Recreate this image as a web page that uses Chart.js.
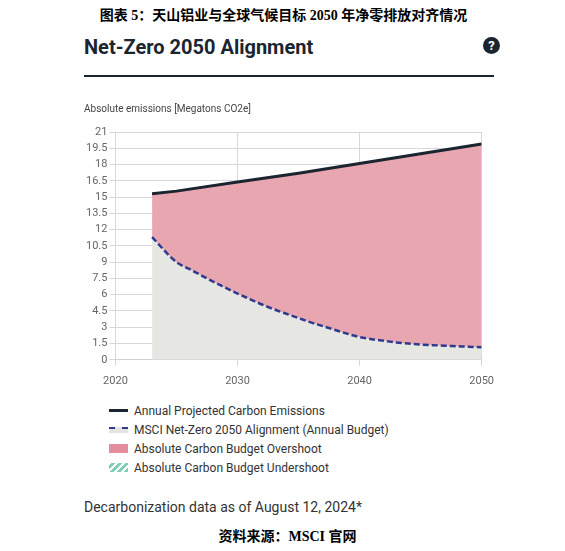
<!DOCTYPE html>
<html>
<head>
<meta charset="utf-8">
<script src="https://cdn.jsdelivr.net/npm/chart.js@4/dist/chart.umd.min.js"></script>
<style>
    body { margin: 0; background: #fff; width: 565px; height: 551px; position: relative; font-family: Roboto, "Noto Sans", sans-serif; color: #222; }
    .cn-title { position: absolute; top: 4px; left: 0; width: 567px; text-align: center; font-family: "Liberation Serif", "Noto Sans CJK SC", serif; font-weight: bold; font-size: 14px; color: #000; }
    .title { position: absolute; top: 35px; left: 84px; font-size: 20px; font-weight: bold; color: #1a2530; }
    .help { position: absolute; top: 37px; left: 483px; width: 17px; height: 17px; border-radius: 50%; background: #1a2530; color: #fff; font-size: 13px; font-weight: bold; text-align: center; line-height: 17px; }
    .rule { position: absolute; top: 75px; left: 84px; width: 410px; height: 2px; background: #1a2530; }
    .chart-box { position: absolute; top: 100px; left: 84px; width: 419px; height: 297px; }
    .legend { position: absolute; top: 403px; left: 109px; font-size: 12px; color: #333; }
    .legend div { height: 19px; line-height: 17px; }
    .sw { display: inline-block; width: 19px; height: 6px; margin-right: 6px; vertical-align: middle; position: relative; top: -1px; }
    .note { position: absolute; top: 499px; left: 84px; font-size: 14px; color: #333; }
    .source { position: absolute; top: 525px; left: 0; width: 575px; text-align: center; font-family: "Liberation Serif", "Noto Sans CJK SC", serif; font-weight: bold; font-size: 14px; color: #000; }
</style>
</head>
<body>
<div class="cn-title">图表 5：天山铝业与全球气候目标 2050 年净零排放对齐情况</div>
<div class="title">Net-Zero 2050 Alignment</div>
<div class="help">?</div>
<div class="rule"></div>
<div class="chart-box"><canvas id="myChart" width="419" height="297"></canvas></div>
<div class="legend">
    <div><span class="sw" style="height:3px;background:#1a2530"></span>Annual Projected Carbon Emissions</div>
    <div><span class="sw" style="background:#e4e4e0;border-top:2px dashed #2e3a8c;height:4px"></span>MSCI Net-Zero 2050 Alignment (Annual Budget)</div>
    <div><span class="sw" style="height:9px;background:#e48d9c"></span>Absolute Carbon Budget Overshoot</div>
    <div><span class="sw" style="height:9px;background:repeating-linear-gradient(-45deg,#7fcfb8 0 3px,#fff 3px 5px)"></span>Absolute Carbon Budget Undershoot</div>
</div>
<div class="note">Decarbonization data as of August 12, 2024*</div>
<div class="source">资料来源：MSCI 官网</div>

<script>
const emission_years = [2023, 2025, 2030, 2035, 2040, 2045, 2050]
const emission_values = [15.3, 15.55, 16.4, 17.2, 18.1, 19.0, 19.9]

const budget_years = [2023, 2025, 2026, 2027, 2028, 2029, 2030, 2031, 2032, 2033, 2034, 2035, 2036, 2037, 2038, 2039, 2040, 2041, 2042, 2043, 2044, 2045, 2046, 2047, 2048, 2049, 2050]
const budget_values = [11.3, 9.0, 8.4, 7.8, 7.2, 6.65, 6.1, 5.6, 5.1, 4.65, 4.25, 3.85, 3.45, 3.1, 2.75, 2.4, 2.1, 1.9, 1.75, 1.6, 1.5, 1.4, 1.35, 1.3, 1.25, 1.2, 1.15]

const y_ticks = [0, 1.5, 3, 4.5, 6, 7.5, 9, 10.5, 12, 13.5, 15, 16.5, 18, 19.5, 21]
const x_ticks = [2020, 2030, 2040, 2050]

const toPoints = (xs, ys) => xs.map((x, i) => ({ x, y: ys[i] }))

const ctx = document.getElementById('myChart').getContext('2d')
new Chart(ctx, {
    type: 'line',
    data: {
        datasets: [
            {
                label: 'Annual Projected Carbon Emissions',
                data: toPoints(emission_years, emission_values),
                borderColor: '#1a2530',
                borderWidth: 3,
                backgroundColor: '#e8a6b1',
                fill: '+1',
                pointRadius: 0,
                tension: 0,
            },
            {
                label: 'MSCI Net-Zero 2050 Alignment (Annual Budget)',
                data: toPoints(budget_years, budget_values),
                borderColor: '#2e3a8c',
                borderWidth: 2.5,
                borderDash: [6, 3],
                backgroundColor: '#e6e6e2',
                fill: 'origin',
                pointRadius: 0,
                cubicInterpolationMode: 'monotone',
            }
        ]
    },
    options: {
        responsive: false,
        animation: false,
        layout: { padding: { right: 6 } },
        plugins: {
            legend: { display: false },
            tooltip: { enabled: false },
            filler: { drawTime: 'beforeDatasetsDraw' },
            title: {
                display: true,
                text: 'Absolute emissions [Megatons CO2e]',
                align: 'start',
                color: '#444',
                font: { family: 'Roboto', size: 10, weight: 'normal' },
                padding: { top: 3, bottom: 17 }
            }
        },
        scales: {
            x: {
                type: 'linear',
                min: 2020,
                max: 2050,
                afterBuildTicks: axis => { axis.ticks = x_ticks.map(value => ({ value })) },
                ticks: { color: '#666', font: { family: 'Roboto', size: 11 }, padding: 9, callback: v => String(v) },
                grid: { color: '#d8d8dc', tickLength: 6 },
                border: { color: '#d0d0d6' }
            },
            y: {
                min: 0,
                max: 21,
                afterBuildTicks: axis => { axis.ticks = y_ticks.map(value => ({ value })) },
                ticks: { color: '#666', font: { family: 'Roboto', size: 11 }, padding: 2, autoSkip: false },
                grid: { color: '#d8d8dc', tickLength: 6 },
                border: { display: false }
            }
        }
    }
})
</script>
</body>
</html>
